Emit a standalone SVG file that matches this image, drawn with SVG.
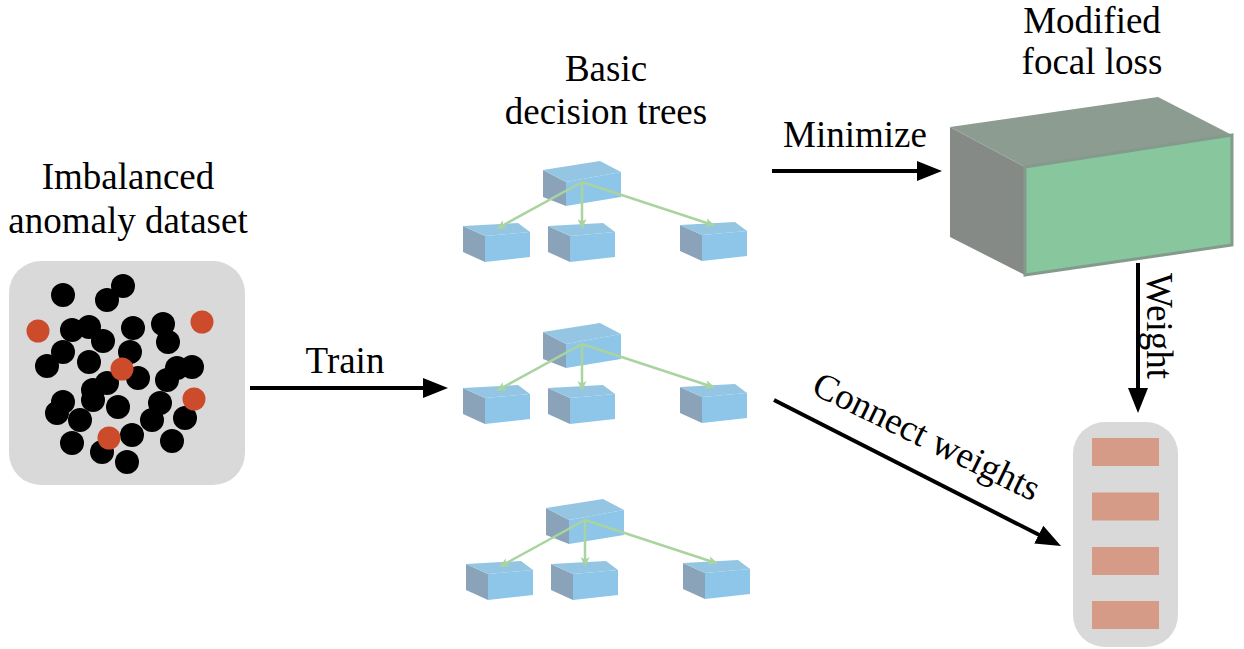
<svg xmlns="http://www.w3.org/2000/svg" width="1244" height="649" viewBox="0 0 1244 649">
<style>
.t{font-family:"Liberation Serif","Times New Roman",serif;font-size:37px;fill:#000}
.panel{fill:#d9d9d9}
.blk{fill:#000;stroke:none}
.red{fill:#cc4b2b}
.lf{fill:#8aa3b8}
.tf{fill:#94c6e4}
.ff{fill:#8dc6e8}
.gl{stroke:#a9d4a0;stroke-width:2.5;fill:none;marker-end:url(#ga)}
.bl{stroke:#000;stroke-width:4;fill:none;marker-end:url(#ba)}
.bar{fill:#d59b87}
</style>
<defs>
<marker id="ba" viewBox="0 0 26 22" markerWidth="26" markerHeight="22" refX="4" refY="11" orient="auto" markerUnits="userSpaceOnUse">
<path d="M0,1 L25,11 L0,21 z" fill="#000"/>
</marker>
<marker id="ga" viewBox="0 0 10 9" markerWidth="10" markerHeight="9" refX="8" refY="4.5" orient="auto" markerUnits="userSpaceOnUse">
<path d="M0,0 L10,4.5 L0,9 L2.5,4.5 z" fill="#a9d4a0"/>
</marker>
<g id="root">
<polygon class="lf" points="0,0 23,12 23,36 0,27"/>
<polygon class="tf" points="0,0 57,-9 78,2 23,12"/>
<polygon class="ff" points="23,12 78,2 78,27 23,36"/>
</g>
<g id="leaf">
<polygon class="lf" points="0,0 22,10 22,36 0,26"/>
<polygon class="tf" points="0,0 55,-3 67,6 22,10"/>
<polygon class="ff" points="22,10 67,6 67,31 22,36"/>
</g>
</defs>
<rect width="1244" height="649" fill="#fff"/>

<g id="dataset">
<rect class="panel" x="9" y="261" width="236" height="224" rx="32"/>
<g class="blk">
<circle cx="63" cy="295" r="12"/><circle cx="123" cy="286" r="12"/><circle cx="107" cy="300" r="12"/>
<circle cx="72" cy="330" r="12"/><circle cx="89" cy="327" r="12"/><circle cx="103" cy="341" r="12"/>
<circle cx="133" cy="328" r="12"/><circle cx="163" cy="324" r="12"/><circle cx="168" cy="342" r="12"/>
<circle cx="63" cy="352" r="12"/><circle cx="47" cy="366" r="12"/><circle cx="89" cy="362" r="12"/>
<circle cx="130" cy="352" r="12"/><circle cx="138" cy="378" r="12"/><circle cx="177" cy="368" r="12"/>
<circle cx="192" cy="367" r="12"/><circle cx="167" cy="380" r="12"/><circle cx="107" cy="383" r="12"/>
<circle cx="93" cy="390" r="12"/><circle cx="93" cy="400" r="12"/><circle cx="63" cy="402" r="12"/><circle cx="57" cy="413" r="12"/>
<circle cx="118" cy="407" r="12"/><circle cx="160" cy="403" r="12"/><circle cx="80" cy="420" r="12"/>
<circle cx="152" cy="420" r="12"/><circle cx="185" cy="418" r="12"/><circle cx="72" cy="443" r="12"/>
<circle cx="132" cy="435" r="12"/><circle cx="102" cy="452" r="12"/><circle cx="172" cy="441" r="12"/>
<circle cx="127" cy="462" r="12"/>
</g>
<g class="red">
<circle cx="38" cy="331" r="11.5"/><circle cx="202" cy="322" r="11.5"/><circle cx="122" cy="369" r="11.5"/>
<circle cx="194" cy="399" r="11.5"/><circle cx="109" cy="438" r="11.5"/>
</g>
</g>

<g id="tree1">
<use href="#root" x="543" y="170"/>
<use href="#leaf" x="463" y="226"/>
<use href="#leaf" x="548" y="226"/>
<use href="#leaf" x="680" y="225"/>
<path class="gl" d="M582,182 L498,228"/>
<path class="gl" d="M582,182 L582,227"/>
<path class="gl" d="M582,182 L713,225"/>
</g>
<g id="tree2" transform="translate(0,162)">
<use href="#root" x="543" y="170"/>
<use href="#leaf" x="463" y="226"/>
<use href="#leaf" x="548" y="226"/>
<use href="#leaf" x="680" y="225"/>
<path class="gl" d="M582,182 L498,228"/>
<path class="gl" d="M582,182 L582,227"/>
<path class="gl" d="M582,182 L713,225"/>
</g>
<g id="tree3" transform="translate(3,338)">
<use href="#root" x="543" y="170"/>
<use href="#leaf" x="463" y="226"/>
<use href="#leaf" x="548" y="226"/>
<use href="#leaf" x="680" y="225"/>
<path class="gl" d="M582,182 L498,228"/>
<path class="gl" d="M582,182 L582,227"/>
<path class="gl" d="M582,182 L713,225"/>
</g>

<g id="loss">
<polygon points="950,127 1025,167 1025,275 950,237" fill="#868a86"/>
<polygon points="950,127 1158,97 1232,135 1025,167" fill="#8d9c90"/>
<polygon points="1025,167 1232,135 1232,245 1025,275" fill="#88c69e" stroke="#849a8c" stroke-width="3"/>
</g>

<g id="weights">
<rect class="panel" x="1073" y="422" width="105" height="225" rx="32"/>
<rect class="bar" x="1092" y="438" width="67" height="28"/>
<rect class="bar" x="1092" y="492.5" width="67" height="28"/>
<rect class="bar" x="1092" y="547" width="67" height="28"/>
<rect class="bar" x="1092" y="601" width="67" height="28"/>
</g>

<g id="connectors">
<line class="bl" x1="250" y1="388" x2="427" y2="388"/>
<line class="bl" x1="772" y1="171" x2="921" y2="171"/>
<line class="bl" x1="1138" y1="263" x2="1138" y2="392"/>
<line class="bl" x1="774" y1="400" x2="1042.3" y2="536.5"/>
</g>

<g id="labels">
<text class="t" x="128" y="189" text-anchor="middle">Imbalanced</text>
<text class="t" x="128" y="233" text-anchor="middle">anomaly dataset</text>
<text class="t" x="606" y="81" text-anchor="middle">Basic</text>
<text class="t" x="606" y="124" text-anchor="middle">decision trees</text>
<text class="t" x="1092" y="33" text-anchor="middle">Modified</text>
<text class="t" x="1092" y="74" text-anchor="middle">focal loss</text>
<text class="t" x="855" y="147" text-anchor="middle">Minimize</text>
<text class="t" x="345" y="373" text-anchor="middle">Train</text>
<text class="t" transform="translate(1147,273) rotate(90)">Weight</text>
<text class="t" transform="translate(810,393) rotate(26)">Connect weights</text>
</g>
</svg>
